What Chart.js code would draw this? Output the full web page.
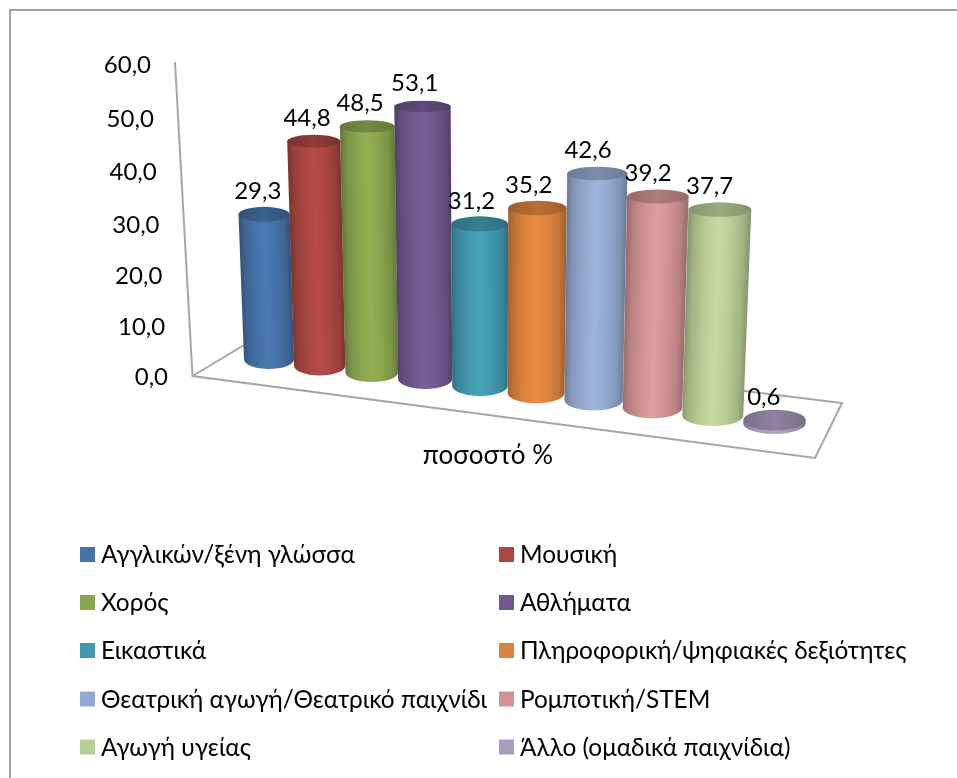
<!DOCTYPE html>
<html>
<head>
<meta charset="utf-8">
<script src="https://cdn.jsdelivr.net/npm/chart.js@4"></script>
<style>
    html, body { margin: 0; background: #fff; overflow: hidden; }
    canvas { display: block; }
</style>
</head>
<body>
<canvas id="myChart" width="957" height="778"></canvas>
<script>
const categories = ['ποσοστό %'];
const seriesNames = ['Αγγλικών/ξένη γλώσσα', 'Μουσική', 'Χορός', 'Αθλήματα', 'Εικαστικά',
    'Πληροφορική/ψηφιακές δεξιότητες', 'Θεατρική αγωγή/Θεατρικό παιχνίδι', 'Ρομποτική/STEM',
    'Αγωγή υγείας', 'Άλλο (ομαδικά παιχνίδια)'];
const seriesValues = [29.3, 44.8, 48.5, 53.1, 31.2, 35.2, 42.6, 39.2, 37.7, 0.6];
const seriesColors = ['#4572A7', '#AA4643', '#89A54E', '#71588F', '#4198AF',
    '#DB843D', '#93A9CF', '#D19392', '#B9CD96', '#A99BBD'];

const FONT = 'Lato, "Open Sans", sans-serif';
const comma = v => v.toFixed(1).replace('.', ',');

function shade(hex, f) {
    const n = parseInt(hex.slice(1), 16);
    const c = [n >> 16, (n >> 8) & 255, n & 255].map(v => Math.min(255, Math.round(v * f)));
    return `rgb(${c[0]},${c[1]},${c[2]})`;
}

// the perspective of the 3d view: floor position along the x scale
function floorX(u) { return 244.2 + 493.2 * u + 68.3 * u * u; }
function floorBottom(u) { return 365.8 + 62.8 * u + 9.4 * u * u; }
function lean(x) { return (x - 490) * 0.000155; }

function cylinder(ctx, el, area, color, yScale) {
    const u = (el.x - area.left) / area.width;
    const cx = floorX(u);
    const w = (493.2 + 136.6 * u) * el.width / area.width;
    const pxPerUnit = (yScale.getPixelForValue(0) - yScale.getPixelForValue(1));
    const h = (el.base - el.y) / pxPerUnit * (4.95 + (cx - 265) * 0.00115);
    const ryBase = 9.5 + (cx - 265) * 0.002;
    const ryTop = ryBase * (1 - h * 0.0015);
    const by = floorBottom(u) - ryBase;
    const ty = by - h;
    const xl = cx - w / 2, xr = cx + w / 2;
    const txl = xl + lean(xl) * h, txr = xr + lean(xr) * h;
    const tcx = (txl + txr) / 2;

    // the shading follows the tilt of the cylinder
    const s = lean(cx);
    ctx.save();
    ctx.beginPath();
    ctx.moveTo(txl, ty);
    ctx.lineTo(xl, by);
    ctx.ellipse(cx, by, w / 2, ryBase, 0, Math.PI, 0, true);
    ctx.lineTo(txr, ty);
    ctx.closePath();
    ctx.transform(1, 0, -s, 1, s * by, 0);
    const g = ctx.createLinearGradient(xl, 0, xr, 0);
    g.addColorStop(0, shade(color, 0.74));
    g.addColorStop(0.1, shade(color, 0.88));
    g.addColorStop(0.3, shade(color, 1.0));
    g.addColorStop(0.5, shade(color, 1.07));
    g.addColorStop(0.7, shade(color, 1.0));
    g.addColorStop(0.9, shade(color, 0.88));
    g.addColorStop(1, shade(color, 0.74));
    ctx.fillStyle = g;
    ctx.fill();
    ctx.restore();

    const t = ctx.createLinearGradient(txl, 0, txr, 0);
    t.addColorStop(0, shade(color, 0.72));
    t.addColorStop(0.5, shade(color, 0.84));
    t.addColorStop(1, shade(color, 0.72));
    ctx.fillStyle = t;
    ctx.beginPath();
    ctx.ellipse(tcx, ty, (txr - txl) / 2, ryTop, 0, 0, Math.PI * 2);
    ctx.fill();

    return { x: tcx, y: ty, u };
}

const scene3d = {
    id: 'scene3d',
    beforeDatasetsDraw(chart) {
        const { ctx, chartArea: area, scales: { x: xScale, y: yScale } } = chart;
        ctx.save();

        // outer frame, cut by the page on the right and at the bottom
        ctx.strokeStyle = '#a0a0a0';
        ctx.lineWidth = 2;
        ctx.beginPath();
        ctx.moveTo(10, 778);
        ctx.lineTo(10, 10);
        ctx.lineTo(957, 10);
        ctx.stroke();

        // wall edge and floor
        ctx.strokeStyle = '#a6a6a6';
        ctx.lineWidth = 2;
        ctx.beginPath();
        ctx.moveTo(175, 62);
        ctx.lineTo(192.5, 376);
        ctx.lineTo(815, 458);
        ctx.lineTo(842, 403);
        ctx.lineTo(266, 332);
        ctx.lineTo(192.5, 376);
        ctx.stroke();

        // value axis, the labels follow the slant of the wall
        ctx.fillStyle = '#000';
        ctx.font = '24px ' + FONT;
        ctx.textAlign = 'right';
        ctx.textBaseline = 'middle';
        yScale.ticks.forEach(t => {
            const y = yScale.getPixelForValue(t.value);
            const bow = 4 * Math.sin(Math.PI * t.value / 60);
            ctx.fillText(comma(t.value), 168 - (377 - y) * 17 / 312, y + bow);
        });

        // category name under the floor
        ctx.textAlign = 'center';
        ctx.font = '26px ' + FONT;
        const u = (xScale.getPixelForValue(0) - area.left) / area.width;
        ctx.fillText(xScale.getLabelForValue(0), floorX(u) - 20, 456);

        // cylinders, left to right so the nearer ones cover the farther ones
        const tops = chart.data.datasets.map((ds, i) => {
            const el = chart.getDatasetMeta(i).data[0];
            return cylinder(ctx, el, area, ds.backgroundColor, yScale);
        });

        // value labels
        ctx.font = '24px ' + FONT;
        ctx.fillStyle = '#000';
        chart.data.datasets.forEach((ds, i) => {
            ctx.fillText(comma(ds.data[0]), tops[i].x - 6 - 5 * tops[i].u, tops[i].y - 23);
        });

        // legend, two columns filled row by row
        ctx.textAlign = 'left';
        ctx.font = '24.4px ' + FONT;
        const rows = [554.5, 602.5, 650.5, 699, 747];
        const cols = [80, 499];
        chart.data.datasets.forEach((ds, i) => {
            const x = cols[i % 2], y = rows[Math.floor(i / 2)];
            ctx.fillStyle = ds.backgroundColor;
            ctx.fillRect(x, y - 7.5, 15, 15);
            ctx.fillStyle = '#000';
            ctx.fillText(ds.label, x + 21, y + 1);
        });
        ctx.restore();
    },
    // the plain rectangles are replaced by the cylinders above
    beforeDatasetDraw() { return false; }
};

new Chart(document.getElementById('myChart'), {
    type: 'bar',
    data: {
        labels: categories,
        datasets: seriesNames.map((name, i) => ({
            label: name,
            data: [seriesValues[i]],
            backgroundColor: seriesColors[i]
        }))
    },
    options: {
        responsive: false,
        animation: false,
        layout: { padding: { left: 175, top: 65, right: 114, bottom: 401 } },
        datasets: { bar: { categoryPercentage: 1, barPercentage: 1 } },
        plugins: { legend: { display: false }, tooltip: { enabled: false } },
        scales: {
            x: { display: false },
            y: { display: false, min: 0, max: 60, ticks: { stepSize: 10 } }
        }
    },
    plugins: [scene3d]
});
</script>
</body>
</html>
